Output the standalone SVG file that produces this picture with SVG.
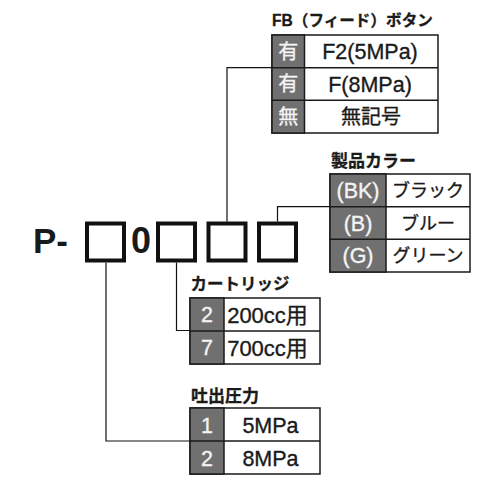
<svg xmlns="http://www.w3.org/2000/svg" width="484" height="484" viewBox="0 0 484 484">
<style>
.bg{fill:#ffffff}
.tbl{fill:none;stroke:#1a1a1a;stroke-width:1.5}
.gray{fill:#707070;stroke:#1a1a1a;stroke-width:1.5}
.cell{fill:#fff;stroke:#1a1a1a;stroke-width:1.5}
.box{fill:#fff;stroke:#111;stroke-width:4}
.con{fill:none;stroke:#111;stroke-width:1.2}
.title{font-family:"Liberation Sans","Noto Sans CJK JP",sans-serif;font-weight:bold;font-size:16.5px;fill:#1a1a1a;stroke:#1a1a1a;stroke-width:0.3}
.t{font-family:"Liberation Sans","Noto Sans CJK JP",sans-serif;font-size:21.5px;fill:#1a1a1a;stroke:#1a1a1a;stroke-width:0.35;text-anchor:middle}
.j{font-family:"Noto Sans CJK JP",sans-serif;font-size:18px;fill:#1a1a1a;stroke:#1a1a1a;stroke-width:0.35;text-anchor:middle}
.w{fill:#f4f4f4;stroke:#f4f4f4}
.big{font-family:"Liberation Sans",Arial,sans-serif;font-weight:bold;font-size:35px;fill:#1a1a1a}
</style>
<rect class="bg" x="0" y="0" width="484" height="484"/>

<g id="connectors">
<path class="con" d="M106 262.5 V441 H190"/>
<path class="con" d="M176.5 262.5 V330.5 H190"/>
<path class="con" d="M227 221.5 V67.7 H272"/>
<path class="con" d="M277.5 221.5 V206.7 H330"/>
</g>

<g id="code">
<text class="big" x="33" y="252.5">P-</text>
<rect class="box" x="87" y="223.5" width="37" height="37"/>
<text class="big" x="131" y="253" style="font-size:36px">0</text>
<rect class="box" x="158" y="223.5" width="37" height="37"/>
<rect class="box" x="208.5" y="223.5" width="37" height="37"/>
<rect class="box" x="259" y="223.5" width="37" height="37"/>
</g>

<g id="fb-button">
<text class="title" x="272" y="26" style="font-size:15.6px">FB（フィード）ボタン</text>
<rect class="cell" x="272" y="35" width="166" height="98"/>
<rect class="gray" x="272" y="35" width="32.5" height="98"/>
<line class="tbl" x1="272" y1="67.7" x2="438" y2="67.7"/>
<line class="tbl" x1="272" y1="100.3" x2="438" y2="100.3"/>
<text class="j w" x="288.2" y="58.5" style="font-size:20px">有</text>
<text class="j w" x="288.2" y="91.2" style="font-size:20px">有</text>
<text class="j w" x="288.2" y="123.8" style="font-size:20px">無</text>
<text class="t" x="370" y="59">F2(5MPa)</text>
<text class="t" x="370" y="91.7">F(8MPa)</text>
<text class="j" x="371" y="124" style="font-size:20px">無記号</text>
</g>

<g id="color">
<text class="title" x="331" y="166.5" style="font-size:17px">製品カラー</text>
<rect class="cell" x="330" y="174" width="140" height="98"/>
<rect class="gray" x="330" y="174" width="56" height="98"/>
<line class="tbl" x1="330" y1="206.7" x2="470" y2="206.7"/>
<line class="tbl" x1="330" y1="239.3" x2="470" y2="239.3"/>
<text class="t w" x="358" y="198">(BK)</text>
<text class="t w" x="358" y="230.7">(B)</text>
<text class="t w" x="358" y="263.3">(G)</text>
<text class="j" x="428" y="197">ブラック</text>
<text class="j" x="428" y="229.7">ブルー</text>
<text class="j" x="428" y="262.3">グリーン</text>
</g>

<g id="cartridge">
<text class="title" x="190.5" y="289.5" style="font-size:16.5px">カートリッジ</text>
<rect class="cell" x="190" y="298" width="130" height="66"/>
<rect class="gray" x="190" y="298" width="34" height="66"/>
<line class="tbl" x1="190" y1="331" x2="320" y2="331"/>
<text class="t w" x="207" y="322">2</text>
<text class="t w" x="207" y="355">7</text>
<text class="t" x="267.5" y="322.5" style="font-size:22px">200cc用</text>
<text class="t" x="267.5" y="355.5" style="font-size:22px">700cc用</text>
</g>

<g id="pressure">
<text class="title" x="191" y="401.5" style="font-size:17px">吐出圧力</text>
<rect class="cell" x="190" y="408" width="130" height="66"/>
<rect class="gray" x="190" y="408" width="34" height="66"/>
<line class="tbl" x1="190" y1="441" x2="320" y2="441"/>
<text class="t w" x="207" y="432.5">1</text>
<text class="t w" x="207" y="465.5">2</text>
<text class="t" x="270.5" y="432.5">5MPa</text>
<text class="t" x="270.5" y="465.5">8MPa</text>
</g>
</svg>
